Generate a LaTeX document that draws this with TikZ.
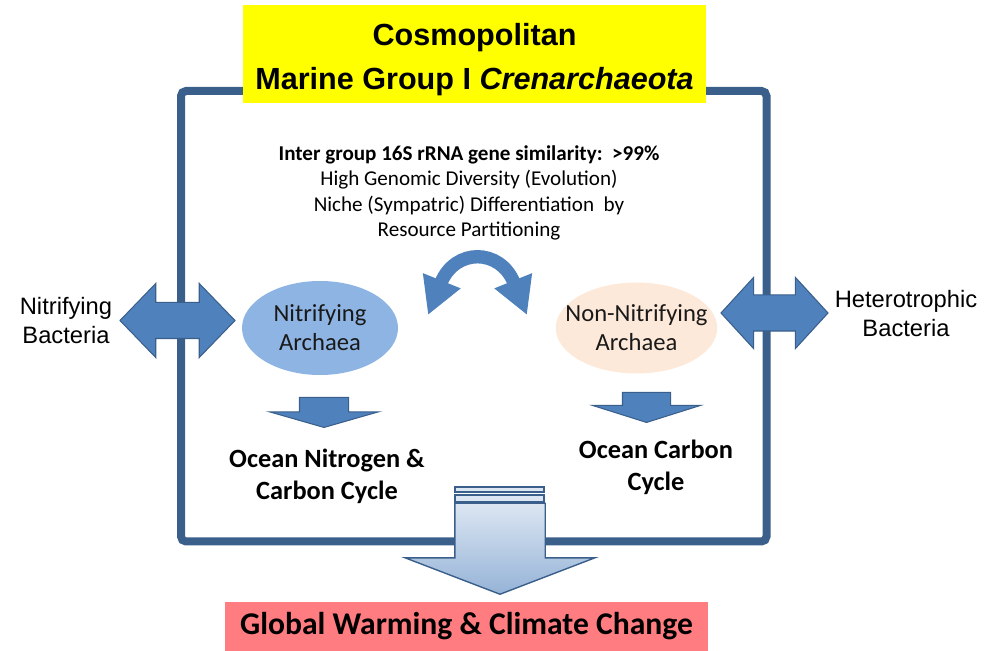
\documentclass[tikz,border=0pt]{standalone}
\usepackage{fontspec}
\setmainfont{Carlito}
\newfontfamily\arialf{Liberation Sans}
\usetikzlibrary{arrows.meta, positioning, shapes.geometric, shapes.arrows}
\definecolor{frameblue}{HTML}{3A5F8B}
\definecolor{arrblue}{HTML}{4F81BD}
\definecolor{nitblue}{HTML}{8DB4E2}
\definecolor{nonpeach}{HTML}{FDE9D9}
\definecolor{ttlyellow}{HTML}{FFFF00}
\definecolor{gwpink}{HTML}{FF7C80}
\definecolor{gradtop}{HTML}{DCE6F2}
\definecolor{gradbot}{HTML}{95B3D7}

\begin{document}
\begin{tikzpicture}[x=0.2mm, y=-0.2mm,
  frm/.style={draw=frameblue, line width=1.6mm, rounded corners=1mm},
  ttlbox/.style={rectangle, fill=ttlyellow, minimum width=92.6mm, minimum height=19.6mm, inner sep=0},
  ell/.style={ellipse, inner xsep=-2.8mm, inner ysep=-2mm, align=center, text=black!90,
              font=\fontsize{14}{16.5}\selectfont},
  barr/.style={double arrow, fill=arrblue, draw=frameblue, line width=0.6pt, inner xsep=0, inner ysep=3.5mm},
  dnarr/.style={single arrow, rotate=-90, fill=arrblue, draw=frameblue, line width=0.6pt, inner xsep=0,
                minimum height=6mm, single arrow head extend=6mm, anchor=tip},
  side/.style={align=center, font=\arialf\fontsize{13.5}{16.5}\selectfont},
  ocean/.style={align=center, font=\bfseries\fontsize{15}{18}\selectfont, inner sep=0},
  swap/.style={{Triangle[width=21.6pt, length=21pt]}-{Triangle[width=21.6pt, length=21pt]}, line width=7.6pt, arrblue},
  strip/.style={draw=frameblue, line width=0.8pt, fill=gradtop}]
  \useasboundingbox (0,0) rectangle (1001,651);
  \draw[frm] (181,91) rectangle (766.5,541.5);
  \node[ttlbox] (ttlbg) at (474.5,54) {};
  \node[align=center, font=\arialf\bfseries\fontsize{17.4}{25}\selectfont] (ttl) at (474.5,60)
      {Cosmopolitan\\Marine Group I \textit{Crenarchaeota}};
  \node[align=center, font=\fontsize{12}{14.5}\selectfont] (info) at (469,193)
      {\textbf{Inter group 16S rRNA gene similarity:\ \ >99\%}\\High Genomic Diversity (Evolution)\\
       Niche (Sympatric) Differentiation\ \ by\\Resource Partitioning};
  \node[ell, fill=nitblue, minimum width=31.2mm, minimum height=18.8mm] (nitA) at (320,328) {Nitrifying\\Archaea};
  \node[ell, fill=nonpeach, minimum width=31.8mm, minimum height=18.2mm] (nnitA) at (636.5,328) {Non-Nitrifying\\Archaea};
  \coordinate (swapL) at (428,315); \coordinate (swapR) at (527,315);
  \draw[swap] (swapL) .. controls (455,248) and (500,248) .. (swapR);
  \node[barr, minimum height=23mm, double arrow head extend=3.8mm,
        double arrow tip angle=92] (lbar) at (177.5,320.5) {};
  \node[barr, minimum height=21.4mm, double arrow head extend=3.5mm,
        double arrow tip angle=95] (rbar) at (774.5,313) {};
  \node[side] (nitB) at (66,321) {Nitrifying\\Bacteria};
  \node[side] (hetB) at (906,314) {Heterotrophic\\Bacteria};
  \node[dnarr, inner ysep=4.8mm, single arrow tip angle=148] (dnl) at (324,428) {};
  \node[dnarr, inner ysep=4.7mm, single arrow tip angle=145] (dnr) at (646.5,423) {};
  \node[ocean, below=4.2mm of dnl.tip, xshift=0.6mm] (ocl) {Ocean Nitrogen \&\\Carbon Cycle};
  \node[ocean, below=3.4mm of dnr.tip, xshift=1.9mm] (ocr) {Ocean Carbon\\Cycle};
  \draw[strip] (455,487) rectangle (544,492) (455,495) rectangle (544,502);
  \node[single arrow, rotate=-90, top color=gradtop, bottom color=gradbot, draw=frameblue, line width=0.8pt,
        inner xsep=0, inner ysep=8.9mm, minimum height=18.2mm, single arrow head extend=9.9mm,
        single arrow tip angle=138, anchor=tip] (big) at (500,595) {};
  \node[fill=gwpink, minimum width=96.6mm, minimum height=9.8mm, inner sep=0,
        font=\bfseries\fontsize{18}{21}\selectfont] (gw) at (466.5,626.5) {Global Warming \& Climate Change};
\end{tikzpicture}
\end{document}
